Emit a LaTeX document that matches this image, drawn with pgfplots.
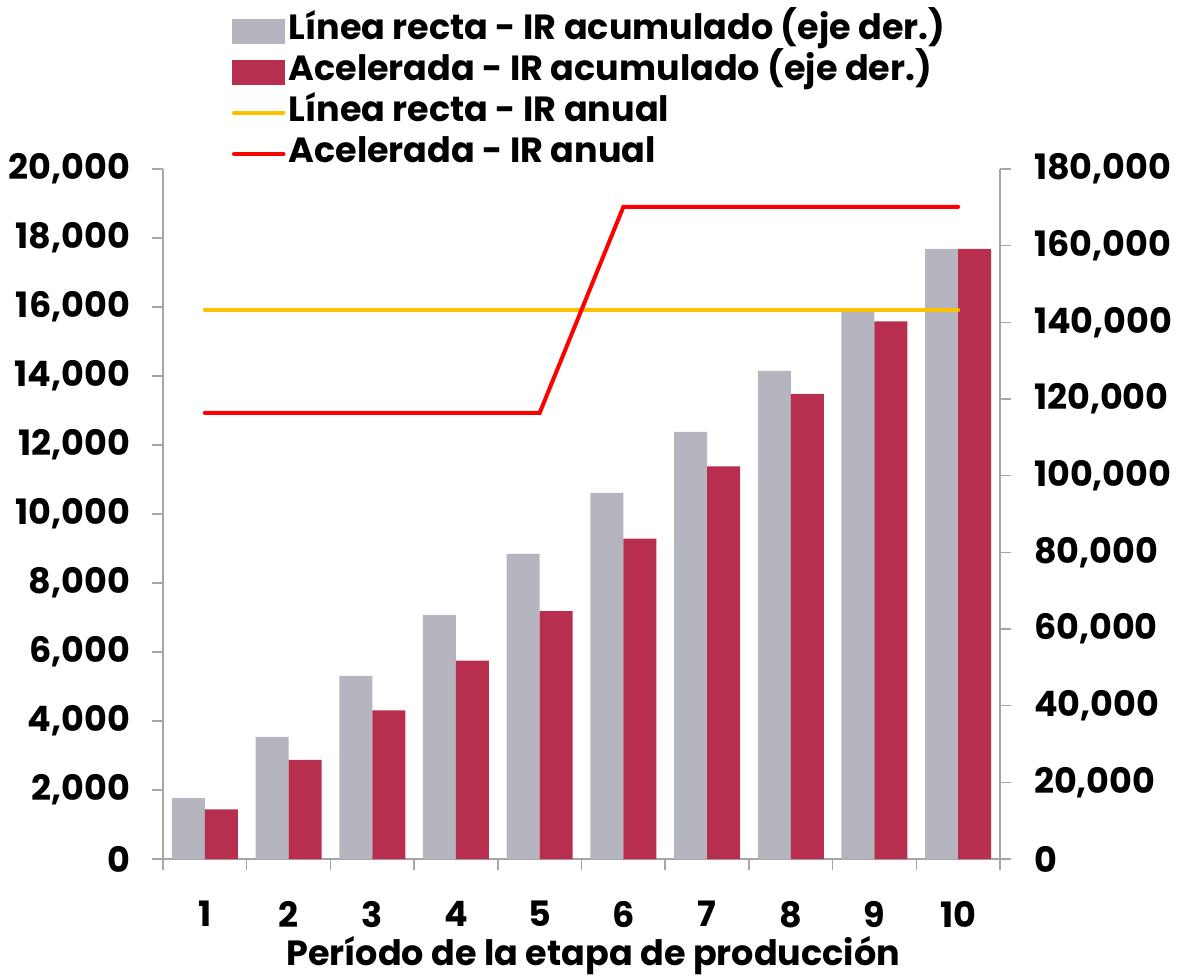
\documentclass[border=0pt]{standalone}
\usepackage{pgfplots}
\pgfplotsset{compat=1.18}
\usepackage{fontspec}
\setmainfont{Poppins}
\definecolor{barGray}{HTML}{B4B5BF}
\definecolor{barRed}{HTML}{B82E4F}
\definecolor{axGray}{HTML}{A6A6A6}
\definecolor{lnYellow}{HTML}{FFC000}
\definecolor{lnRed}{HTML}{FF0000}
\newcommand{\chartfont}{\fontsize{17.5}{20}\selectfont\bfseries}
\begin{document}
\begin{tikzpicture}
\path[use as bounding box] (-81.5pt,-58.5pt) rectangle (507pt,429.5pt);
\pgfplotsset{
  common/.style={
    scale only axis, width=418.5pt, height=345pt,
    xmin=0.5, xmax=10.5, ymin=0,
    axis line style={axGray, line width=0.75pt},
    tick style={axGray, line width=0.75pt},
    tick align=outside,
    major tick length=5.5pt,
    tick label style={font=\chartfont, black},
    scaled ticks=false,
    /pgf/number format/fixed,
    /pgf/number format/precision=0,
    /pgf/number format/1000 sep={,},
    /pgf/number format/assume math mode=true,
  }
}
\begin{axis}[common,
  ymax=180000, ytick distance=20000,
  axis y line*=right, axis x line*=bottom,
  xtick={0.5,1.5,...,10.5},
  x tick label as interval,
  xticklabels={1,2,3,4,5,6,7,8,9,10},
  xticklabel style={yshift=-12pt},
  yticklabel style={xshift=8pt},
  xlabel={Período de la etapa de producción},
  xlabel style={font=\chartfont, at={(axis description cs:0.514,-0.155)}, anchor=base},
  ybar=0pt, bar width=16.5pt,
]
\addplot[fill=barGray, draw=none] coordinates {
 (1,15915) (2,31830) (3,47745) (4,63660) (5,79575)
 (6,95490) (7,111405) (8,127320) (9,143235) (10,159150)};
\addplot[fill=barRed, draw=none] coordinates {
 (1,12930) (2,25860) (3,38790) (4,51720) (5,64650)
 (6,83550) (7,102450) (8,121350) (9,140250) (10,159150)};
\end{axis}
\begin{axis}[common,
  ymax=20000, ytick distance=2000,
  axis y line*=left, axis x line=none,
  yticklabel style={xshift=-7.5pt},
  legend cell align=left,
  legend style={draw=none, fill=none, font=\chartfont, inner sep=0pt, outer sep=0pt,
    at={(rel axis cs:0.0824,1.2297)}, anchor=north west, row sep=0pt,
    nodes={inner sep=1.5pt, text height=13pt, text depth=4.5pt}},
]
\addlegendimage{legend image code/.code={\fill[barGray] (0pt,-6pt) rectangle (26pt,6pt);}}
\addlegendentry{Línea recta - IR acumulado (eje der.)}
\addlegendimage{legend image code/.code={\fill[barRed] (0pt,-6pt) rectangle (26pt,6pt);}}
\addlegendentry{Acelerada - IR acumulado (eje der.)}
\addplot[lnYellow, line width=2pt, line cap=round,
  legend image code/.code={\draw[lnYellow, line width=2.4pt, line cap=round] (0.8pt,0pt) -- (25.2pt,0pt);}] coordinates {
 (1,15915) (2,15915) (3,15915) (4,15915) (5,15915)
 (6,15915) (7,15915) (8,15915) (9,15915) (10,15915)};
\addlegendentry{Línea recta - IR anual}
\addplot[lnRed, line width=2pt, line cap=round,
  legend image code/.code={\draw[lnRed, line width=2.4pt, line cap=round] (0.8pt,0pt) -- (25.2pt,0pt);}] coordinates {
 (1,12930) (2,12930) (3,12930) (4,12930) (5,12930)
 (6,18900) (7,18900) (8,18900) (9,18900) (10,18900)};
\addlegendentry{Acelerada - IR anual}
\end{axis}
\end{tikzpicture}
\end{document}
